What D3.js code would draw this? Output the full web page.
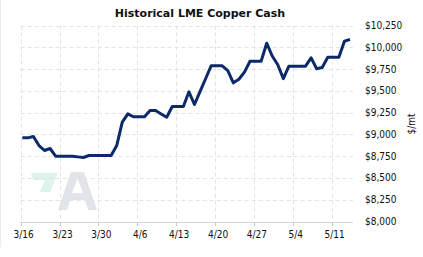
<!DOCTYPE html>
<html>
<head>
<meta charset="utf-8">
<script src="https://cdn.jsdelivr.net/npm/d3@7"></script>
<style>
  html, body { margin: 0; padding: 0; background: #fff; }
  svg { display: block; }
  .tick-label { font-family: "DejaVu Sans Condensed", "Liberation Sans", sans-serif; font-size: 10px; fill: #111; }
</style>
</head>
<body>
<div id="chart"></div>
<script>
// daily LME copper cash, starting 3/16
const startDate = "2021-03-16";
const prices = [
  8960, 8960, 8976, 8872, 8815, 8838, 8750, 8750, 8750, 8750,
  8742, 8735, 8758, 8758, 8758, 8758, 8758, 8872, 9140, 9236,
  9202, 9202, 9202, 9274, 9274, 9235, 9197, 9320, 9320, 9320,
  9489, 9343, 9491, 9639, 9787, 9787, 9787, 9733, 9592, 9633,
  9714, 9840, 9840, 9840, 10047, 9900, 9800, 9640, 9783, 9783,
  9783, 9783, 9879, 9753, 9768, 9886, 9886, 9886, 10069, 10090,
];
const xTickLabels = ["3/16", "3/23", "3/30", "4/6", "4/13", "4/20", "4/27", "5/4", "5/11"];
const yTicks = [8000, 8250, 8500, 8750, 9000, 9250, 9500, 9750, 10000, 10250];

const width = 423;
const height = 257;
const plotLeft = 20.7;
const plotRight = 353;
const plotTop = 25.5;
const plotBottom = 221.5;

const parseDate = d3.timeParse("%Y-%m-%d");
const start = parseDate(startDate);
const data = prices.map((value, i) => ({ date: d3.timeDay.offset(start, i), value }));
const tickDates = xTickLabels.map((_, i) => d3.timeDay.offset(start, i * 7));

const x = d3
  .scaleTime()
  .domain([start, d3.timeDay.offset(start, prices.length - 1)])
  .range([plotLeft, plotLeft + (prices.length - 1) * 5.554]);
const y = d3.scaleLinear().domain([8000, 10250]).range([plotBottom, plotTop]);

const svg = d3
  .select("#chart")
  .append("svg")
  .attr("width", width)
  .attr("height", height)
  .attr("viewBox", [0, 0, width, height]);

// faint frame edge on the left
svg
  .append("line")
  .attr("x1", 0.5)
  .attr("x2", 0.5)
  .attr("y1", 0)
  .attr("y2", 247)
  .attr("stroke", "#ececec");

// watermark logo
const logo = svg.append("g").attr("class", "watermark");
logo
  .append("path")
  .attr("d", "M31,173 L58,173 L50,192 L40,192 L45,180 L33,180 Z")
  .attr("fill", "#dcf4ea");
logo
  .append("path")
  .attr("fill-rule", "evenodd")
  .attr(
    "d",
    "M71,172 L84,172 L97,210 L88,210 L85,200 L70,200 L67,210 L58,210 Z M72,193 L83,193 L77.5,178 Z"
  )
  .attr("fill", "#e1e4e9");

// grid
const grid = svg
  .append("g")
  .attr("class", "grid")
  .attr("stroke", "#e3e3e3")
  .attr("stroke-dasharray", "4,3");
grid
  .selectAll(".hgrid")
  .data(yTicks.filter((d) => d > 8000))
  .join("line")
  .attr("class", "hgrid")
  .attr("x1", plotLeft)
  .attr("x2", plotRight)
  .attr("y1", (d) => Math.round(y(d)) + 0.5)
  .attr("y2", (d) => Math.round(y(d)) + 0.5);
grid
  .selectAll(".vgrid")
  .data(tickDates)
  .join("line")
  .attr("class", "vgrid")
  .attr("x1", (d) => Math.round(x(d)) + 0.5)
  .attr("x2", (d) => Math.round(x(d)) + 0.5)
  .attr("y1", plotTop)
  .attr("y2", plotBottom);

// x axis
const xAxis = svg.append("g").attr("class", "x-axis");
xAxis
  .append("line")
  .attr("x1", plotLeft)
  .attr("x2", plotRight)
  .attr("y1", Math.round(plotBottom) + 0.5)
  .attr("y2", Math.round(plotBottom) + 0.5)
  .attr("stroke", "#d6d6d6");
xAxis
  .selectAll(".tick")
  .data(tickDates)
  .join("line")
  .attr("class", "tick")
  .attr("x1", (d) => Math.round(x(d)) + 0.5)
  .attr("x2", (d) => Math.round(x(d)) + 0.5)
  .attr("y1", Math.round(plotBottom))
  .attr("y2", Math.round(plotBottom) + 4)
  .attr("stroke", "#c8c8c8");
xAxis
  .selectAll("text")
  .data(tickDates)
  .join("text")
  .attr("class", "tick-label")
  .attr("x", (d) => x(d) + 3)
  .attr("y", 237.5)
  .attr("text-anchor", "middle")
  .text((_, i) => xTickLabels[i]);

// y axis on the right
const formatPrice = (d) => "$" + d3.format(",")(d);
svg
  .append("g")
  .attr("class", "y-axis")
  .selectAll("text")
  .data(yTicks)
  .join("text")
  .attr("class", "tick-label")
  .attr("x", 365)
  .attr("y", (d) => y(d))
  .attr("dy", "0.35em")
  .text(formatPrice);

svg
  .append("text")
  .attr("class", "tick-label")
  .attr("transform", "translate(415,124) rotate(-90)")
  .attr("text-anchor", "middle")
  .text("$/mt");

// price line
const line = d3
  .line()
  .x((d) => x(d.date))
  .y((d) => y(d.value));
svg
  .append("path")
  .datum(data)
  .attr("transform", "translate(1.6,0)")
  .attr("d", line)
  .attr("fill", "none")
  .attr("stroke", "#0c2a68")
  .attr("stroke-width", 3)
  .attr("stroke-linejoin", "round");

// title
svg
  .append("text")
  .attr("x", 200)
  .attr("y", 17)
  .attr("text-anchor", "middle")
  .attr("font-family", "DejaVu Sans, Verdana, sans-serif")
  .attr("font-weight", "bold")
  .attr("font-size", 11)
  .attr("fill", "#111")
  .text("Historical LME Copper Cash");
</script>
</body>
</html>
